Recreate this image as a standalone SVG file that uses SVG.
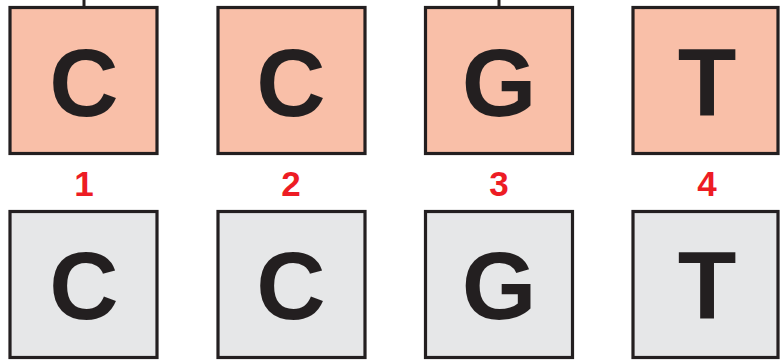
<svg xmlns="http://www.w3.org/2000/svg" width="780" height="361" viewBox="0 0 780 361">
<style>
.box{stroke:#231F20;stroke-width:3.2}
.top{fill:#F9BFA8}
.bot{fill:#E6E7E8}
.base{font-family:"Liberation Sans",Arial,sans-serif;font-weight:bold;font-size:96px;fill:#231F20;text-anchor:middle}
.num{font-family:"Liberation Sans",Arial,sans-serif;font-weight:bold;font-size:35px;fill:#ED1C24;text-anchor:middle}
.conn{stroke:#231F20;stroke-width:3;fill:none}
</style>
<rect width="780" height="361" fill="#FFFFFF"/>
<g id="connectors">
<line class="conn" x1="84" y1="0" x2="84" y2="7"/>
<line class="conn" x1="499" y1="0" x2="499" y2="7"/>
</g>
<g id="top1"><rect class="box top" x="10" y="7.5" width="147" height="146"/><text class="base" x="84" y="116">C</text></g>
<g id="top2"><rect class="box top" x="218" y="7.5" width="147" height="146"/><text class="base" x="291" y="116">C</text></g>
<g id="top3"><rect class="box top" x="425.5" y="7.5" width="147" height="146"/><text class="base" x="499" y="116">G</text></g>
<g id="top4"><rect class="box top" x="633" y="7.5" width="145" height="146"/><text class="base" x="707" y="116">T</text></g>
<g id="label1"><text class="num" x="84" y="196">1</text></g>
<g id="label2"><text class="num" x="291" y="196">2</text></g>
<g id="label3"><text class="num" x="499" y="196">3</text></g>
<g id="label4"><text class="num" x="707" y="196">4</text></g>
<g id="bot1"><rect class="box bot" x="10" y="211.5" width="147" height="146"/><text class="base" x="84" y="319">C</text></g>
<g id="bot2"><rect class="box bot" x="218" y="211.5" width="147" height="146"/><text class="base" x="291" y="319">C</text></g>
<g id="bot3"><rect class="box bot" x="425.5" y="211.5" width="147" height="146"/><text class="base" x="499" y="319">G</text></g>
<g id="bot4"><rect class="box bot" x="633" y="211.5" width="145" height="146"/><text class="base" x="707" y="319">T</text></g>
</svg>
